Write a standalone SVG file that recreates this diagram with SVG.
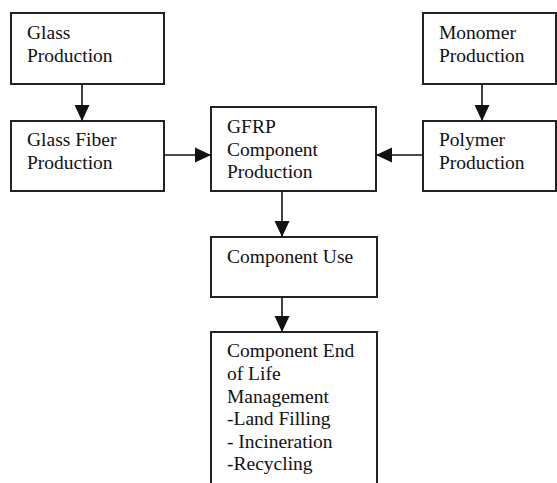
<svg xmlns="http://www.w3.org/2000/svg" width="557" height="483" viewBox="0 0 557 483">
<defs>
<marker id="ah" markerUnits="userSpaceOnUse" markerWidth="16" markerHeight="16" refX="16" refY="8" orient="auto" viewBox="0 0 16 16">
<path d="M0,0.5 L16,8 L0,15.5 z" fill="#111"/>
</marker>
<style>
.box{fill:#fff;stroke:#222;stroke-width:2}
.lbl{font-family:"Liberation Serif","Times New Roman",serif;font-size:19.5px;fill:#111}
.conn{stroke:#111;stroke-width:1.6;fill:none;marker-end:url(#ah)}
</style>
</defs>
<rect width="557" height="483" fill="#fff"/>
<g id="glass-production">
<rect class="box" x="11" y="13" width="153" height="71"/>
<text class="lbl" x="27" y="39">Glass</text>
<text class="lbl" x="27" y="62">Production</text>
</g>
<g id="glass-fiber-production">
<rect class="box" x="11" y="121" width="153" height="70"/>
<text class="lbl" x="27" y="146">Glass Fiber</text>
<text class="lbl" x="27" y="169">Production</text>
</g>
<g id="gfrp-component-production">
<rect class="box" x="211" y="107" width="165" height="84"/>
<text class="lbl" x="227" y="133">GFRP</text>
<text class="lbl" x="227" y="156">Component</text>
<text class="lbl" x="227" y="178">Production</text>
</g>
<g id="monomer-production">
<rect class="box" x="423" y="13" width="133" height="71"/>
<text class="lbl" x="439" y="39">Monomer</text>
<text class="lbl" x="439" y="62">Production</text>
</g>
<g id="polymer-production">
<rect class="box" x="423" y="121" width="133" height="70"/>
<text class="lbl" x="439" y="146">Polymer</text>
<text class="lbl" x="439" y="169">Production</text>
</g>
<g id="component-use">
<rect class="box" x="211" y="237" width="166" height="60"/>
<text class="lbl" x="227" y="263">Component Use</text>
</g>
<g id="component-end-of-life">
<path class="box" d="M211,490 V332 H377 V490"/>
<text class="lbl" x="227" y="357">Component End</text>
<text class="lbl" x="227" y="380">of Life</text>
<text class="lbl" x="227" y="403">Management</text>
<text class="lbl" x="227" y="425">-Land Filling</text>
<text class="lbl" x="227" y="448">- Incineration</text>
<text class="lbl" x="227" y="470">-Recycling</text>
</g>
<g id="connectors">
<line class="conn" x1="82" y1="84" x2="82" y2="121"/>
<line class="conn" x1="164" y1="155" x2="211" y2="155"/>
<line class="conn" x1="482" y1="84" x2="482" y2="121"/>
<line class="conn" x1="423" y1="155" x2="376" y2="155"/>
<line class="conn" x1="282" y1="191" x2="282" y2="237"/>
<line class="conn" x1="282" y1="297" x2="282" y2="332"/>
</g>
</svg>
